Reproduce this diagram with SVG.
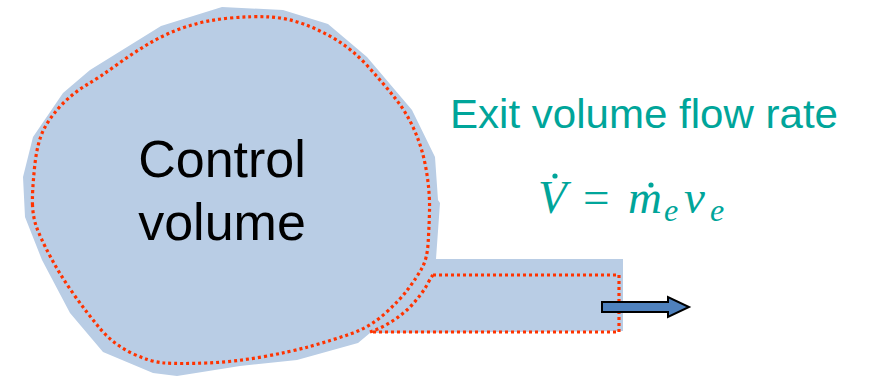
<svg xmlns="http://www.w3.org/2000/svg" width="872" height="376" viewBox="0 0 872 376">
<style>
.fill{fill:#B9CDE5;stroke:none}
.dot{fill:none;stroke:#FF3300;stroke-width:3.2;stroke-dasharray:3 3}
.lbl{font-family:"Liberation Sans",Arial,sans-serif;fill:#000}
.teal{font-family:"Liberation Sans",Arial,sans-serif;fill:#00A59A}
.math{font-family:"Liberation Serif","Times New Roman",serif;font-style:italic;fill:#00A59A}
.arrow{fill:#4F81BD;stroke:#000;stroke-width:2;stroke-linejoin:miter}
</style>
<rect width="872" height="376" fill="#fff"/>
<g id="control-volume">
<polygon class="fill" points="222,7 283,10 328,24 367,57 412,110 435,157 438,200 440,203 436,259 623,259 623,331 370,333 358,343 297,360 240,366 177,376 153,373 103,352 70,313 42,260 25,217 23,177 33,137 63,93 90,70 161,26"/>
<path class="dot" d="M32.5,205 Q32,193 34.5,168 Q37,143 43.5,130 Q50,117 61.5,105 Q73,93 86.5,85 Q100,77 116.5,65 Q133,53 150,43 Q167,33 187,26.5 Q207,20 230,18 Q253,16 270,17 Q287,18 303.5,24 Q320,30 336.5,40 Q353,50 368,66.5 Q383,83 395,98 Q407,113 415,131.5 Q423,150 426.5,171.5 Q430,193 429.5,211.5 Q429,230 428,244.5 Q427,259 422,268 Q417,277 408.5,288.5 Q400,300 385,313.5 Q370,327 351.5,333.5 Q333,340 311.5,346 Q290,352 261.5,357 Q233,362 206.5,363 Q180,364 165,363 Q150,362 131.5,353 Q113,344 100,328.5 Q87,313 73.5,294 Q60,275 50,256 Q40,237 36.5,227 Q33,217 32.5,205 Z"/>
<path class="dot" d="M433,275 L619,275 L619,332 L370,332 Q376,330 382,327 Q396,320 408,309 Q420,297 427,285 Q430,279 433,275 Z"/>
<text class="lbl" x="222" y="177" font-size="52" text-anchor="middle">Control</text>
<text class="lbl" x="222" y="240" font-size="52" text-anchor="middle">volume</text>
</g>
<g id="exit-label">
<text class="teal" x="450" y="128" font-size="40" textLength="388" lengthAdjust="spacingAndGlyphs">Exit volume flow rate</text>
<text class="math" font-size="47"><tspan x="538" y="213">V</tspan><tspan x="583" y="213" font-style="normal">=</tspan><tspan x="628" y="213">m</tspan><tspan x="664" y="221" font-size="32">e</tspan><tspan x="684" y="213">v</tspan><tspan x="710" y="221" font-size="32">e</tspan></text>
<circle cx="555" cy="176" r="2.6" fill="#00A59A"/>
<circle cx="651" cy="185" r="2.6" fill="#00A59A"/>
</g>
<g id="connectors">
<polygon class="arrow" points="602,302 668,302 668,297 689,307 668,317 668,312 602,312"/>
</g>
</svg>
